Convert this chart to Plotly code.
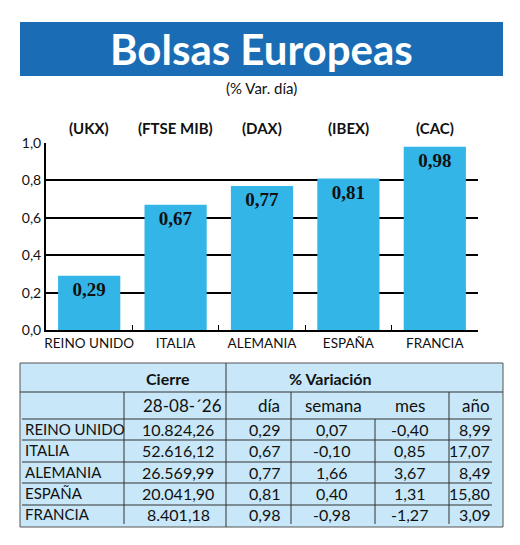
import plotly.graph_objects as go

paises = ["REINO UNIDO", "ITALIA", "ALEMANIA", "ESPAÑA", "FRANCIA"]
indices = ["(UKX)", "(FTSE MIB)", "(DAX)", "(IBEX)", "(CAC)"]
var_dia = [0.29, 0.67, 0.77, 0.81, 0.98]
y_ticks = [0.0, 0.2, 0.4, 0.6, 0.8, 1.0]

cierre = ["10.824,26", "52.616,12", "26.569,99", "20.041,90", "8.401,18"]
dia = ["0,29", "0,67", "0,77", "0,81", "0,98"]
semana = ["0,07", "-0,10", "1,66", "0,40", "-0,98"]
mes = ["-0,40", "0,85", "3,67", "1,31", "-1,27"]
anio = ["8,99", "17,07", "8,49", "15,80", "3,09"]

W, H = 520, 545
# la pagina deja 8px de margen arriba y a la izquierda
px = lambda x: (x - 8) / W
py = lambda y: 1 - (y - 8) / H

def fmt(v):
    return f"{v:.2f}".replace(".", ",")

fig = go.Figure()
fig.add_trace(go.Bar(
    x=paises, y=var_dia, marker=dict(color="#33b5e8", line=dict(width=0)),
    text=["<b>" + fmt(v) + "</b>" for v in var_dia], textposition="inside",
    insidetextanchor="end", textangle=0,
    textfont=dict(family="Liberation Serif", size=19, color="#111"),
))

fig.update_layout(
    width=W, height=H, margin=dict(l=0, r=0, t=0, b=0),
    paper_bgcolor="white", plot_bgcolor="white", showlegend=False,
    bargap=0.28,
    xaxis=dict(domain=[px(46), px(478)], showline=True, linecolor="black", linewidth=2,
               ticks="inside", tickson="boundaries", ticklen=5, tickcolor="black",
               tickangle=0, automargin=False,
               tickfont=dict(family="Lato", size=13.5, color="#111")),
    yaxis=dict(domain=[py(330), py(143)], range=[0, 1.0], showline=True,
               linecolor="black", linewidth=2, showgrid=True, gridcolor="black",
               gridwidth=2, tickvals=y_ticks, automargin=False,
               ticktext=[f"{v:.1f}".replace(".", ",") for v in y_ticks],
               tickfont=dict(family="Lato", size=14, color="#111"), zeroline=False),
    font=dict(family="Lato"),
)

shapes = []
ann = []
# banda del titulo
shapes.append(dict(type="rect", xref="paper", yref="paper", x0=px(20), x1=px(503),
                   y0=py(76), y1=py(22), fillcolor="#1a6db5", line=dict(width=0)))
ann.append(dict(text="<b>Bolsas Europeas</b>", xref="paper", yref="paper", x=px(261), y=py(49),
                yanchor="middle", showarrow=False,
                font=dict(family="Lato", size=42, color="white")))
ann.append(dict(text="(% Var. día)", xref="paper", yref="paper", x=px(261), y=py(88),
                yanchor="middle", showarrow=False,
                font=dict(family="Lato", size=15, color="#111")))
for p, idx in zip(paises, indices):
    ann.append(dict(text="<b>" + idx + "</b>", xref="x", yref="paper", x=p, y=py(128),
                    yanchor="middle", showarrow=False,
                    font=dict(family="Lato", size=15, color="#111")))

# tabla
shapes.append(dict(type="rect", xref="paper", yref="paper", x0=px(20), x1=px(503),
                   y0=py(527), y1=py(363), fillcolor="#c8e7f8",
                   line=dict(color="#555", width=1)))
shapes.append(dict(type="line", xref="paper", yref="paper", x0=px(20), x1=px(503),
                   y0=py(392), y1=py(392), line=dict(color="#333", width=1)))
for y in [419, 440, 462, 483, 505]:
    shapes.append(dict(type="line", xref="paper", yref="paper", x0=px(22), x1=px(492),
                       y0=py(y), y1=py(y), line=dict(color="#333", width=1)))
shapes.append(dict(type="line", xref="paper", yref="paper", x0=px(226), x1=px(226),
                   y0=py(527), y1=py(363), line=dict(color="#333", width=1)))
for x in [124, 291, 449]:
    shapes.append(dict(type="line", xref="paper", yref="paper", x0=px(x), x1=px(x),
                       y0=py(524), y1=py(392), line=dict(color="#333", width=1)))
shapes.append(dict(type="line", xref="paper", yref="paper", x0=px(375), x1=px(375),
                   y0=py(524), y1=py(419), line=dict(color="#333", width=1)))

def cell(t, x, y, anchor="center", bold=False, size=16):
    ann.append(dict(text=f"<b>{t}</b>" if bold else t, xref="paper", yref="paper",
                    x=px(x), y=py(y), xanchor=anchor, yanchor="middle", showarrow=False,
                    font=dict(family="Lato", size=size, color="#111")))

cell("Cierre", 168, 378, bold=True)
cell("% Variación", 330, 378, bold=True)
cell("28-08-´26", 182, 405, size=17)
cell("día", 282, 405, "right", size=17)
cell("semana", 333, 405, size=17)
cell("mes", 410, 405, size=17)
cell("año", 492, 405, "right", size=17)
centers = [429, 450, 472, 493, 514]
for i in range(5):
    y = centers[i]
    cell(paises[i], 23, y, "left", size=15)
    cell(cierre[i], 178, y)
    cell(dia[i], 282, y, "right")
    cell(semana[i], 331, y)
    cell(mes[i], 409, y)
    cell(anio[i], 492, y, "right")

fig.update_layout(shapes=shapes, annotations=ann)
fig.write_html("out.html")
